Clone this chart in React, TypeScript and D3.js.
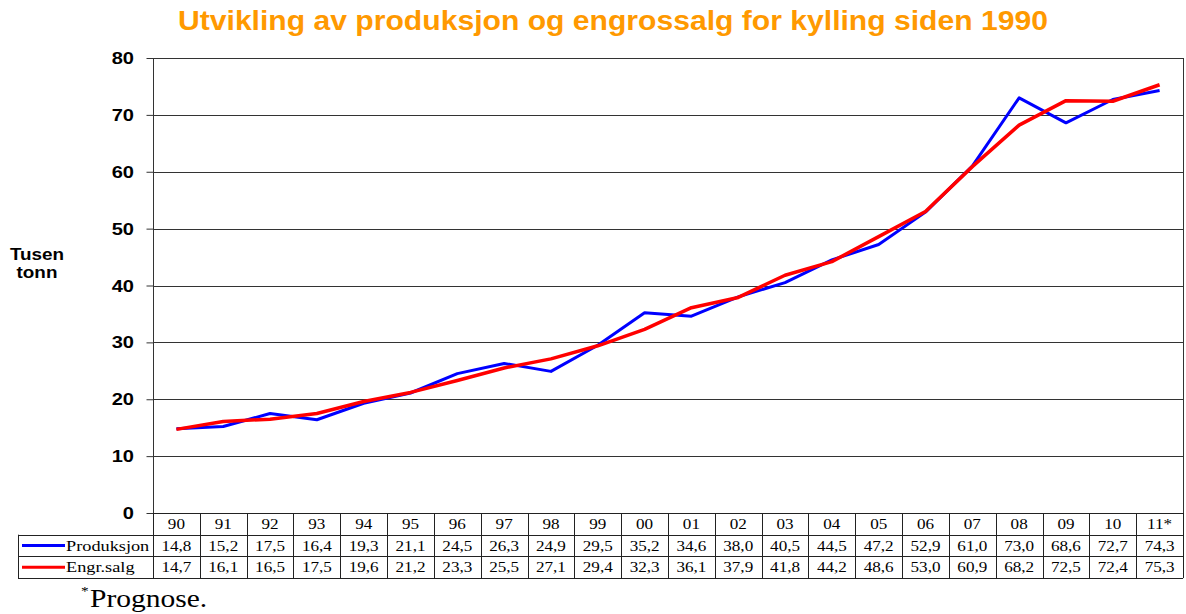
import React, { useEffect, useRef } from 'react';
import * as d3 from 'd3';

// years shown in the table header
const years = ['90', '91', '92', '93', '94', '95', '96', '97', '98', '99', '00', '01', '02', '03', '04', '05', '06', '07', '08', '09', '10', '11*'];

// Produksjon (tusen tonn)
const produksjon = [14.8, 15.2, 17.5, 16.4, 19.3, 21.1, 24.5, 26.3, 24.9, 29.5, 35.2, 34.6, 38.0, 40.5, 44.5, 47.2, 52.9, 61.0, 73.0, 68.6, 72.7, 74.3];

// Engrossalg (tusen tonn)
const engrSalg = [14.7, 16.1, 16.5, 17.5, 19.6, 21.2, 23.3, 25.5, 27.1, 29.4, 32.3, 36.1, 37.9, 41.8, 44.2, 48.6, 53.0, 60.9, 68.2, 72.5, 72.4, 75.3];

const yTicks = [0, 10, 20, 30, 40, 50, 60, 70, 80];

const series = [
  { name: 'Produksjon', values: produksjon, color: '#0000ff', width: 3 },
  { name: 'Engr.salg', values: engrSalg, color: '#ff0000', width: 3.5 },
];

const fmt = (v: number) => v.toFixed(1).replace('.', ',');

const sans = 'Liberation Sans, Arial, sans-serif';
const serif = 'Liberation Serif, Times New Roman, serif';
// the source picture is stretched a bit horizontally
const SX = 1.18;

function App() {
  const ref = useRef<SVGSVGElement | null>(null);

  useEffect(() => {
    const svg = d3.select(ref.current);
    svg.selectAll('*').remove();

    const left = 153;
    const right = 1183;
    const top = 58;
    const bottom = 513;
    const rowH = 21.7;
    const labelLeft = 18;

    const x = d3.scaleBand<string>().domain(years).range([left, right]);
    const y = d3.scaleLinear().domain([0, 80]).range([bottom, top]);

    const stretched = (
      g: d3.Selection<any, any, any, any>,
      tx: number,
      ty: number,
      txt: string,
      size: number,
      family: string,
      anchor = 'start',
      bold = false
    ) =>
      g
        .append('text')
        .attr('transform', `translate(${tx},${ty}) scale(${SX},1)`)
        .attr('text-anchor', anchor)
        .attr('font-family', family)
        .attr('font-weight', bold ? 'bold' : 'normal')
        .attr('font-size', size)
        .attr('fill', '#000')
        .text(txt);

    // title
    svg
      .append('text')
      .attr('x', 613)
      .attr('y', 30)
      .attr('text-anchor', 'middle')
      .attr('font-family', sans)
      .attr('font-weight', 'bold')
      .attr('font-size', 27)
      .attr('fill', '#ff9900')
      .attr('textLength', 870)
      .attr('lengthAdjust', 'spacingAndGlyphs')
      .text('Utvikling av produksjon og engrossalg for kylling siden 1990');

    // gridlines
    svg
      .append('g')
      .selectAll('line')
      .data(yTicks.filter((d) => d > 0))
      .enter()
      .append('line')
      .attr('x1', left)
      .attr('x2', right)
      .attr('y1', (d) => Math.round(y(d)) + 0.5)
      .attr('y2', (d) => Math.round(y(d)) + 0.5)
      .attr('stroke', '#333')
      .attr('stroke-width', 1);

    // y axis
    const yAxis = d3
      .axisLeft(y)
      .tickValues(yTicks)
      .tickSize(7)
      .tickPadding(12)
      .tickFormat(() => '');
    const ag = svg.append('g').attr('transform', `translate(${left + 0.5},0)`).call(yAxis);
    ag.select('.domain').remove();
    ag.selectAll('line').attr('stroke', '#333');
    yTicks.forEach((t) => {
      stretched(svg, 134, y(t) + 6, String(t), 17, sans, 'end', true);
    });

    // plot frame
    svg
      .append('rect')
      .attr('x', left + 0.5)
      .attr('y', top + 0.5)
      .attr('width', right - left)
      .attr('height', bottom - top)
      .attr('fill', 'none')
      .attr('stroke', '#333');

    // axis title
    stretched(svg, 37, 260, 'Tusen', 16, sans, 'middle', true);
    stretched(svg, 37, 278, 'tonn', 16, sans, 'middle', true);

    // lines
    const line = d3
      .line<number>()
      .x((_, i) => (x(years[i]) as number) + x.bandwidth() / 2)
      .y((d) => y(d));

    series.forEach((s) => {
      svg
        .append('path')
        .datum(s.values)
        .attr('d', line)
        .attr('fill', 'none')
        .attr('stroke', s.color)
        .attr('stroke-width', s.width)
        .attr('stroke-linejoin', 'round');
    });

    // data table
    const tbl = svg.append('g');
    const gridColor = '#222';

    [0, 1, 2, 3].forEach((r) => {
      const yy = Math.round(bottom + r * rowH) + 0.5;
      tbl
        .append('line')
        .attr('x1', r < 1 ? left : labelLeft)
        .attr('x2', right)
        .attr('y1', yy)
        .attr('y2', yy)
        .attr('stroke', gridColor);
    });

    const edges = years.map((yr) => x(yr) as number).concat([right]);
    edges.forEach((ex) => {
      tbl
        .append('line')
        .attr('x1', Math.round(ex) + 0.5)
        .attr('x2', Math.round(ex) + 0.5)
        .attr('y1', bottom)
        .attr('y2', bottom + 3 * rowH)
        .attr('stroke', gridColor);
    });
    tbl
      .append('line')
      .attr('x1', labelLeft + 0.5)
      .attr('x2', labelLeft + 0.5)
      .attr('y1', bottom + rowH)
      .attr('y2', bottom + 3 * rowH)
      .attr('stroke', gridColor);

    years.forEach((d) => {
      stretched(tbl, (x(d) as number) + x.bandwidth() / 2, bottom + rowH / 2 + 5, d, 14.5, serif, 'middle');
    });

    series.forEach((s, si) => {
      const rowY = bottom + (si + 1) * rowH;
      tbl
        .append('line')
        .attr('x1', 22)
        .attr('x2', 65)
        .attr('y1', rowY + rowH / 2)
        .attr('y2', rowY + rowH / 2)
        .attr('stroke', s.color)
        .attr('stroke-width', 3);
      stretched(tbl, 66, rowY + rowH / 2 + 5, s.name, 15.5, serif);
      s.values.forEach((v, i) => {
        stretched(tbl, (x(years[i]) as number) + x.bandwidth() / 2, rowY + rowH / 2 + 5, fmt(v), 14.5, serif, 'middle');
      });
    });

    // footnote
    stretched(svg, 81, 595, '*', 13, serif);
    stretched(svg, 90, 607, 'Prognose.', 25, serif);
  }, []);

  return (
    <svg
      ref={ref}
      width={1186}
      height={614}
      style={{ position: 'absolute', left: 0, top: 0, background: '#fff' }}
    />
  );
}

export default App;
